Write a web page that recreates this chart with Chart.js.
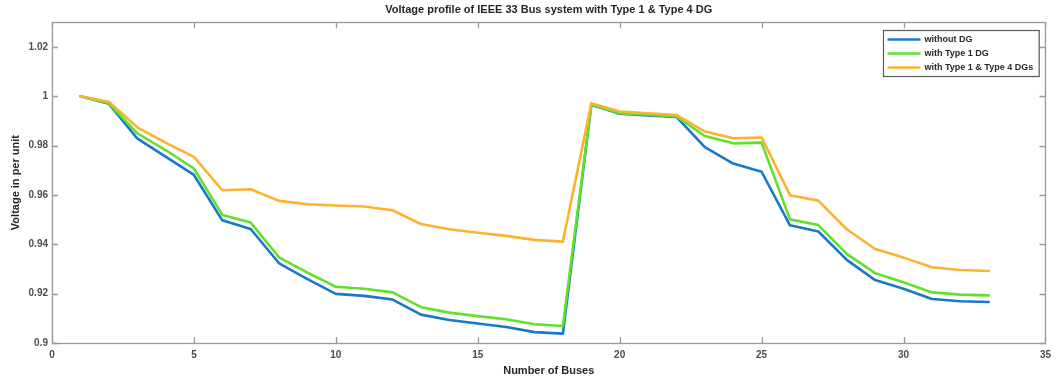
<!DOCTYPE html>
<html>
<head>
<meta charset="utf-8">
<title>Voltage profile of IEEE 33 Bus system</title>
<script src="https://cdn.jsdelivr.net/npm/chart.js@4.4.1/dist/chart.umd.min.js"></script>
<style>
  html, body { margin: 0; padding: 0; background: #ffffff; }
  #wrap { width: 1057px; height: 380px; }
</style>
</head>
<body>
<div id="wrap"><canvas id="chart" width="1057" height="380"></canvas></div>
<script>
// Bus numbers of the IEEE 33-bus radial feeder
const buses = [1, 2, 3, 4, 5, 6, 7, 8, 9, 10, 11, 12, 13, 14, 15, 16, 17,
               18, 19, 20, 21, 22, 23, 24, 25, 26, 27, 28, 29, 30, 31, 32, 33];

// Bus voltages (p.u.)
const withoutDG = [1.0000, 0.9970, 0.9829, 0.9755, 0.9681, 0.9497, 0.9462, 0.9323, 0.9259, 0.9199, 0.9191,
                   0.9176, 0.9115, 0.9093, 0.9079, 0.9065, 0.9044, 0.9038, 0.9965, 0.9929, 0.9922, 0.9916,
                   0.9794, 0.9727, 0.9694, 0.9477, 0.9452, 0.9337, 0.9255, 0.9220, 0.9178, 0.9169, 0.9166];
const withType1 = [1.0000, 0.9972, 0.9850, 0.9782, 0.9707, 0.9519, 0.9488, 0.9347, 0.9285, 0.9228, 0.9220,
                   0.9205, 0.9145, 0.9123, 0.9109, 0.9096, 0.9076, 0.9069, 0.9966, 0.9931, 0.9925, 0.9918,
                   0.9839, 0.9809, 0.9812, 0.9501, 0.9478, 0.9361, 0.9283, 0.9246, 0.9205, 0.9196, 0.9193];
const withType1Type4 = [1.0000, 0.9978, 0.9874, 0.9812, 0.9754, 0.9619, 0.9623, 0.9576, 0.9562, 0.9557, 0.9553,
                        0.9538, 0.9482, 0.9461, 0.9447, 0.9434, 0.9418, 0.9411, 0.9972, 0.9938, 0.9931, 0.9924,
                        0.9857, 0.9830, 0.9833, 0.9599, 0.9577, 0.9461, 0.9381, 0.9346, 0.9307, 0.9296, 0.9292];

const seriesNames = ['without DG', 'with Type 1 DG', 'with Type 1 & Type 4 DGs'];

// Axis tick values
const xTicks = [0, 5, 10, 15, 20, 25, 30, 35];
const yTicks = [0.90, 0.92, 0.94, 0.96, 0.98, 1.00, 1.02];

const FONT = '"Liberation Sans", Arial, Helvetica, sans-serif';
const TEXT = '#262626';
const TICK_TEXT = '#4d4d4d';
const AXIS = '#9a9a9a';
const COLORS = ['#1a78c8', '#62e02c', '#fdb22e'];

const toPoints = vals => buses.map((b, i) => ({ x: b, y: vals[i] }));

// Box around the axes with inward tick marks, plus a boxed legend in the upper right
const axesBox = {
  id: 'axesBox',
  afterDraw(chart) {
    const { ctx, chartArea: a, scales } = chart;
    const tl = 6;
    ctx.save();
    ctx.strokeStyle = AXIS;
    ctx.lineWidth = 1.3;
    ctx.strokeRect(Math.round(a.left) + 0.5, Math.round(a.top) + 0.5,
                   Math.round(a.right - a.left), Math.round(a.bottom - a.top));
    ctx.beginPath();
    xTicks.forEach(v => {
      const px = Math.round(scales.x.getPixelForValue(v)) + 0.5;
      ctx.moveTo(px, a.bottom); ctx.lineTo(px, a.bottom - tl);
      ctx.moveTo(px, a.top); ctx.lineTo(px, a.top + tl);
    });
    yTicks.forEach(v => {
      const py = Math.round(scales.y.getPixelForValue(v)) + 0.5;
      ctx.moveTo(a.left, py); ctx.lineTo(a.left + tl, py);
      ctx.moveTo(a.right, py); ctx.lineTo(a.right - tl, py);
    });
    ctx.stroke();

    // legend
    ctx.font = 'bold 9px ' + FONT;
    const textW = Math.max(...seriesNames.map(s => ctx.measureText(s).width));
    const sample = 33, gap = 4, rowH = 14;
    const w = 4 + sample + gap + textW + 6;
    const h = rowH * seriesNames.length + 4;
    const lx = Math.round(a.right - 7 - w) + 0.5;
    const ly = Math.round(a.top + 8) + 0.5;
    ctx.fillStyle = '#ffffff';
    ctx.fillRect(lx, ly, w, h);
    ctx.strokeStyle = '#5a5a5a';
    ctx.lineWidth = 1.2;
    ctx.strokeRect(lx, ly, w, h);
    ctx.textBaseline = 'middle';
    ctx.textAlign = 'left';
    seriesNames.forEach((name, i) => {
      const yy = ly + 9 + i * rowH;
      ctx.strokeStyle = COLORS[i];
      ctx.lineWidth = 2.5;
      ctx.beginPath();
      ctx.moveTo(lx + 4, yy);
      ctx.lineTo(lx + 4 + sample, yy);
      ctx.stroke();
      ctx.fillStyle = TEXT;
      ctx.fillText(name, lx + 4 + sample + gap, yy);
    });
    ctx.restore();
  }
};

new Chart(document.getElementById('chart'), {
  type: 'line',
  data: {
    datasets: [
      { label: seriesNames[0], data: toPoints(withoutDG), borderColor: COLORS[0], order: 3 },
      { label: seriesNames[1], data: toPoints(withType1), borderColor: COLORS[1], order: 2 },
      { label: seriesNames[2], data: toPoints(withType1Type4), borderColor: COLORS[2], order: 1 }
    ]
  },
  options: {
    responsive: false,
    animation: false,
    devicePixelRatio: 1,
    layout: { padding: { left: 0, right: 10, top: 0, bottom: 0 } },
    elements: {
      line: { borderWidth: 2.6, tension: 0, fill: false, borderCapStyle: 'round', borderJoinStyle: 'round' },
      point: { radius: 0, hoverRadius: 0 }
    },
    plugins: {
      legend: { display: false },
      tooltip: { enabled: false },
      title: {
        display: true,
        fullSize: false,
        text: 'Voltage profile of IEEE 33 Bus system with Type 1 & Type 4 DG',
        color: TEXT,
        font: { family: FONT, size: 11, weight: 'bold', lineHeight: 1.2 },
        padding: { top: 3, bottom: 6 }
      }
    },
    scales: {
      x: {
        type: 'linear',
        min: 0, max: 35,
        afterBuildTicks: s => { s.ticks = xTicks.map(v => ({ value: v })); },
        afterFit: s => { s.height = 37; },
        grid: { display: false, drawTicks: false },
        border: { display: false },
        ticks: { color: TICK_TEXT, font: { family: FONT, size: 10, weight: 'bold' }, padding: 6, maxRotation: 0 },
        title: {
          display: true, text: 'Number of Buses', color: TEXT,
          font: { family: FONT, size: 11, weight: 'bold', lineHeight: 1.2 },
          padding: { top: 0, bottom: 2 }
        }
      },
      y: {
        type: 'linear',
        min: 0.9, max: 1.03,
        afterBuildTicks: s => { s.ticks = yTicks.map(v => ({ value: v })); },
        afterFit: s => { s.width = 52; },
        grid: { display: false, drawTicks: false },
        border: { display: false },
        ticks: {
          color: TICK_TEXT, font: { family: FONT, size: 10, weight: 'bold' }, padding: 4,
          callback: v => String(+v.toFixed(2))
        },
        title: {
          display: true, text: 'Voltage in per unit', color: TEXT,
          font: { family: FONT, size: 11, weight: 'bold', lineHeight: 1.2 },
          padding: { top: 9, bottom: 0 }
        }
      }
    }
  },
  plugins: [axesBox]
});
</script>
</body>
</html>
